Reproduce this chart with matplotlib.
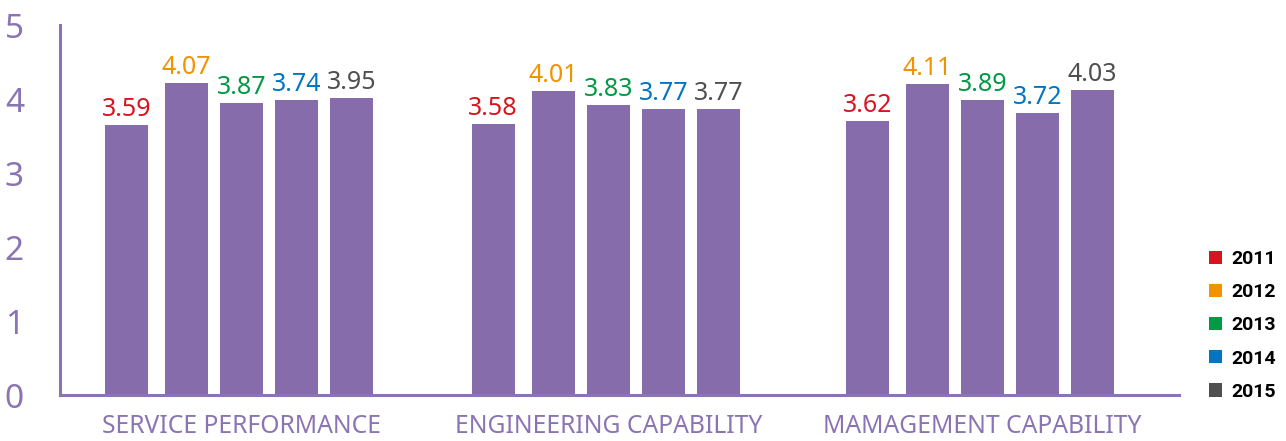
import matplotlib
matplotlib.use('Agg')
import matplotlib.pyplot as plt
import numpy as np
from matplotlib.patches import Patch

categories = ['SERVICE PERFORMANCE', 'ENGINEERING CAPABILITY', 'MAMAGEMENT CAPABILITY']
years = ['2011', '2012', '2013', '2014', '2015']

# bar heights as drawn in the picture (per year, across the 3 categories)
bar_heights = {
    '2011': [3.65, 3.66, 3.70],
    '2012': [4.22, 4.11, 4.20],
    '2013': [3.95, 3.92, 3.99],
    '2014': [3.99, 3.86, 3.81],
    '2015': [4.01, 3.86, 4.12],
}
# printed value labels
value_labels = {
    '2011': ['3.59', '3.58', '3.62'],
    '2012': ['4.07', '4.01', '4.11'],
    '2013': ['3.87', '3.83', '3.89'],
    '2014': ['3.74', '3.77', '3.72'],
    '2015': ['3.95', '3.77', '4.03'],
}
year_colors = ['#d7141f', '#f39200', '#009944', '#0075c2', '#4f4f4f']

BAR = '#876cab'
AXC = '#8b74b4'
FONT = ['Noto Sans', 'DejaVu Sans']

fig = plt.figure(figsize=(12.86, 4.41), dpi=100)
ax = fig.add_axes([60 / 1286, 46 / 441, 1119 / 1286, 370 / 441])

centers = np.array([0.0, 0.99, 2.0])
offsets = [-0.311, -0.149, 0.0, 0.149, 0.297]
width = 0.116

for i, y in enumerate(years):
    xs = centers + offsets[i]
    ax.bar(xs, bar_heights[y], width=width, color=BAR, zorder=2)
    for x, h, lab in zip(xs, bar_heights[y], value_labels[y]):
        ax.text(x, h + 0.04, lab, ha='center', va='bottom', color=year_colors[i],
                fontsize=18, family=FONT)

ax.set_xlim(-0.49, 2.53)
ax.set_ylim(0, 5)
ax.set_yticks(range(6))
ax.set_xticks(centers)
ax.set_xticklabels(categories, family=FONT, fontsize=17.8, color=AXC, fontweight='light')
for t in ax.get_yticklabels():
    t.set_family(FONT)
    t.set_fontsize(24)
    t.set_color(AXC)
ax.tick_params(axis='y', length=0, pad=26)
ax.tick_params(axis='x', length=0, pad=14)

for s in ['top', 'right']:
    ax.spines[s].set_visible(False)
for s in ['left', 'bottom']:
    ax.spines[s].set_color(AXC)
    ax.spines[s].set_linewidth(2.2)

handles = [Patch(facecolor=c, edgecolor='none') for c in year_colors]
fig.legend(handles, years, loc='upper left', bbox_to_anchor=(1209 / 1286, 1 - 250 / 441),
           frameon=False, handlelength=0.68, handleheight=0.68, handletextpad=0.45,
           labelspacing=0.78, borderaxespad=0, borderpad=0,
           prop={'family': ['Liberation Sans Narrow', 'Roboto', 'DejaVu Sans'],
                 'weight': 'bold', 'size': 14})

fig.savefig('out.png', dpi=100)
